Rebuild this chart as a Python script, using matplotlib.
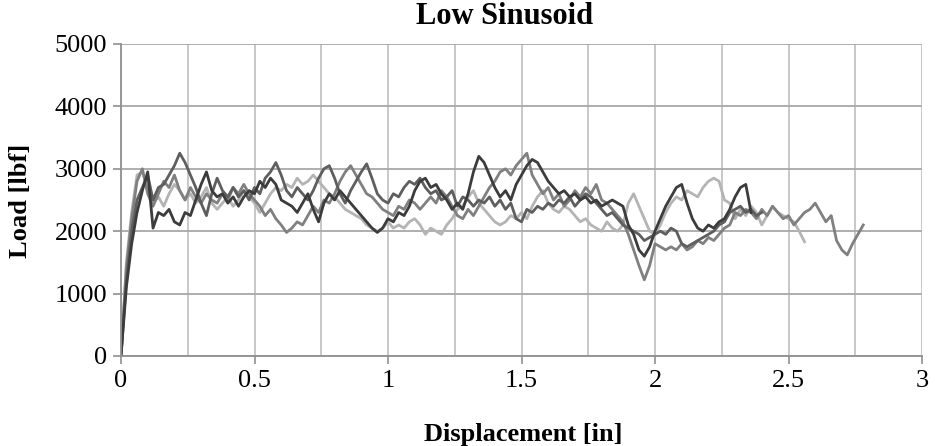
import numpy as np
import matplotlib
matplotlib.use('Agg')
import matplotlib.pyplot as plt

plt.rcParams['font.family'] = ['Liberation Serif', 'DejaVu Serif']

STEP = 0.02  # sampling step of the displacement readings [in]

# load readings [lbf], one every 0.02 in
load_dark = [0, 1100, 1800, 2300, 2650, 2950, 2050, 2300, 2250, 2350,
             2150, 2100, 2300, 2250, 2500, 2750, 2950, 2650, 2550, 2600,
             2450, 2550, 2400, 2550, 2650, 2600, 2800, 2700, 2850, 2750,
             2500, 2450, 2400, 2300, 2450, 2600, 2350, 2150, 2450, 2600,
             2500, 2650, 2550, 2450, 2350, 2250, 2150, 2050, 1980, 2050,
             2200, 2150, 2300, 2250, 2400, 2650, 2800, 2850, 2700, 2750,
             2600, 2500, 2350, 2450, 2350, 2600, 2950, 3200, 3100, 2900,
             2700, 2550, 2650, 2500, 2750, 2900, 3050, 3150, 3100, 2950,
             2800, 2700, 2600, 2650, 2550, 2600, 2500, 2550, 2450, 2500,
             2400, 2450, 2500, 2450, 2400, 2100, 1950, 1700, 1600, 1750,
             2000, 2200, 2400, 2550, 2700, 2750, 2450, 2200, 2050, 2000,
             2100, 2050, 2150, 2200, 2350, 2550, 2700, 2750, 2300]

load_mid = [0, 1400, 2200, 2800, 3000, 2600, 2400, 2600, 2800, 2700,
            2900, 2650, 2500, 2700, 2550, 2450, 2600, 2500, 2450, 2600,
            2500, 2700, 2600, 2750, 2600, 2500, 2400, 2250, 2350, 2200,
            2100, 1980, 2050, 2150, 2100, 2250, 2400, 2300, 2500, 2450,
            2600, 2800, 2950, 3050, 2900, 2750, 2600, 2550, 2450, 2350,
            2300, 2250, 2400, 2350, 2500, 2450, 2350, 2450, 2550, 2450,
            2650, 2550, 2400, 2250, 2200, 2350, 2250, 2400, 2550, 2700,
            2800, 2950, 3000, 2900, 3050, 3150, 3250, 2900, 2750, 2600,
            2700, 2500, 2600, 2400, 2500, 2650, 2550, 2700, 2600, 2750,
            2500, 2450, 2350, 2250, 2150, 1950, 1700, 1450, 1220, 1450,
            1800, 1750, 1700, 1750, 1700, 1800, 1700, 1750, 1850, 1800,
            1900, 1850, 1950, 2050, 2100, 2300, 2250, 2350, 2300, 2200,
            2350, 2250, 2400, 2300, 2200, 2250, 2100, 2200, 2300, 2350,
            2450, 2300, 2150, 2250, 1850, 1700, 1620, 1800, 1950, 2100]

load_darkmid = [0, 1200, 2000, 2500, 2700, 2900, 2500, 2700, 2750, 2900,
                3050, 3250, 3100, 2900, 2700, 2450, 2250, 2600, 2850, 2650,
                2550, 2700, 2550, 2650, 2500, 2700, 2600, 2850, 2950, 3100,
                2900, 2650, 2550, 2700, 2600, 2500, 2650, 2850, 3000, 3050,
                2850, 2600, 2450, 2650, 2800, 2950, 3080, 2850, 2600, 2500,
                2450, 2600, 2550, 2700, 2800, 2750, 2850, 2700, 2600, 2650,
                2500, 2550, 2650, 2400, 2550, 2500, 2400, 2500, 2450, 2550,
                2400, 2500, 2350, 2450, 2200, 2150, 2350, 2300, 2400, 2350,
                2450, 2400, 2500, 2450, 2550, 2400, 2500, 2600, 2550, 2450,
                2350, 2250, 2300, 2200, 2100, 2050, 2000, 1950, 1850, 1900,
                1950, 2000, 1950, 2050, 2000, 1800, 1750, 1800, 1850, 1900,
                1950, 2000, 2100, 2150, 2300, 2350, 2400, 2300, 2350, 2250,
                2300]

load_light = [0, 1500, 2300, 2900, 2950, 2700, 2450, 2550, 2400, 2600,
              2750, 2650, 2500, 2600, 2450, 2550, 2700, 2450, 2350, 2450,
              2550, 2400, 2500, 2650, 2550, 2450, 2300, 2450, 2600, 2700,
              2650, 2750, 2700, 2850, 2750, 2800, 2900, 2800, 2700, 2600,
              2550, 2450, 2350, 2300, 2250, 2200, 2100, 2050, 2000, 2050,
              2150, 2050, 2100, 2050, 2150, 2200, 2100, 1950, 2050, 2000,
              1950, 2100, 2200, 2350, 2400, 2550, 2650, 2450, 2350, 2250,
              2150, 2100, 2150, 2250, 2200, 2300, 2200, 2400, 2550, 2650,
              2450, 2350, 2300, 2400, 2350, 2250, 2150, 2200, 2100, 2050,
              2000, 2150, 2050, 2000, 2100, 2450, 2600, 2400, 2200, 2000,
              1950, 2100, 2300, 2450, 2550, 2500, 2650, 2600, 2550, 2700,
              2800, 2850, 2800, 2500, 2450, 2200, 2350, 2250, 2400, 2300,
              2100, 2250, 2400, 2300, 2250, 2200, 2150, 2000, 1830]

series = [(load_light, '#b4b4b4'), (load_mid, '#808080'),
          (load_darkmid, '#5e5e5e'), (load_dark, '#3c3c3c')]

fig = plt.figure(figsize=(9.35, 4.46), dpi=100)
ax = fig.add_axes([121 / 935, 1 - 356 / 446, 801 / 935, 312 / 446])

for load, col in series:
    disp = np.arange(len(load)) * STEP
    ax.plot(disp, load, color=col, lw=2.0, solid_joinstyle='round')

ax.set_xlim(0, 3)
ax.set_ylim(0, 5000)
ax.set_xticks(np.arange(0, 3.01, 0.5))
ax.set_xticklabels(['0', '0.5', '1', '1.5', '2', '2.5', '3'])
ax.set_xticks(np.arange(0, 3.01, 0.25), minor=True)
ax.set_yticks(np.arange(0, 5001, 1000))

ax.grid(True, which='both', axis='x', color='#c4c4c4', lw=1.3)
ax.grid(True, which='major', axis='y', color='#a8a8a8', lw=1.3)
ax.set_axisbelow(True)
ax.tick_params(which='minor', length=0)
ax.tick_params(which='major', length=6, color='#909090', width=1.2,
               labelsize=19, pad=4)
for s in ['top', 'right']:
    ax.spines[s].set_visible(False)
for s in ['left', 'bottom']:
    ax.spines[s].set_color('#909090')
    ax.spines[s].set_linewidth(1.3)

fig.text(505 / 935, 1 - 17 / 446, 'Low Sinusoid', ha='center', va='center',
         fontsize=22, fontweight='bold')
fig.text(21 / 935, 1 - 201 / 446, 'Load [lbf]', ha='center', va='center',
         rotation=90, fontsize=19, fontweight='bold')
fig.text(523 / 935, 1 - 434 / 446, 'Displacement [in]', ha='center', va='center',
         fontsize=19, fontweight='bold')

fig.savefig('out.png', dpi=100)
